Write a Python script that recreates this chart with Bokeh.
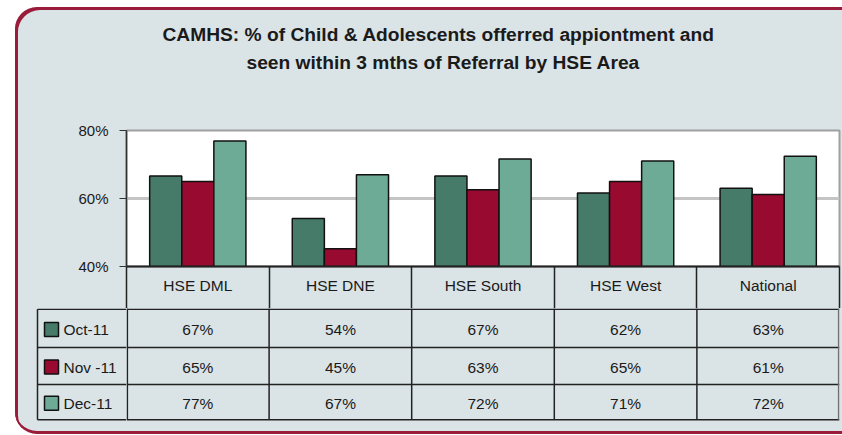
from bokeh.plotting import figure
from bokeh.layouts import column, row
from bokeh.models import (Range1d, FixedTicker, PrintfTickFormatter,
                          ColumnDataSource, Title)
from bokeh.core.properties import value
from bokeh.transform import dodge
from bokeh.embed import file_html
from bokeh.resources import INLINE

# ---- data ----
areas = ["HSE DML", "HSE DNE", "HSE South", "HSE West", "National"]
months = ["Oct-11", "Nov -11", "Dec-11"]
oct_vals = [66.6, 54.1, 66.6, 61.6, 63.0]
nov_vals = [65.0, 45.2, 62.6, 65.0, 61.2]
dec_vals = [76.9, 67.0, 71.6, 71.0, 72.4]
y_ticks = [40, 60, 80]
title_lines = ["CAMHS: % of Child & Adolescents offerred appiontment and",
               "seen within 3 mths of Referral by HSE Area"]

colors = ["#467a69", "#990a31", "#6eab97"]
BG = "#dae3e6"
RED = "#9b1b3b"
FONT = "Liberation Sans"
TXT = "#1a1a1a"
LC = "#222222"

series = [oct_vals, nov_vals, dec_vals]
keys = ["oct", "nov", "dec"]
n = len(areas)
centers = [i + 0.5 for i in range(n)]
bounds = list(range(n + 1))
src = ColumnDataSource(dict(xc=centers, oct=oct_vals, nov=nov_vals, dec=dec_vals))

# ---- geometry of the panel ----
X0, Y0 = 15, 7          # outer panel position on page
W = 827                 # panel width
LB = 111                # space left of the plot frame
RB = 3                  # space right of the plot frame
HDR = 42                # header row (category labels) height
TOPH = 301              # height of chart + header row
TH = 126                # height of the value rows part

# ---- top: bar chart with category header row as x axis ----
p = figure(x_range=Range1d(0, n), y_range=Range1d(40, 80),
           width=W, height=TOPH, min_border_left=LB, min_border_right=RB,
           min_border_top=123, min_border_bottom=HDR,
           toolbar_location=None, output_backend="svg")
p.background_fill_color = "white"
p.border_fill_alpha = 0
p.outline_line_color = "#a0a0a0"
p.outline_line_width = 2
p.xgrid.visible = False
p.ygrid.ticker = FixedTicker(ticks=[60])
p.ygrid.grid_line_color = "#c4c4c4"
p.ygrid.grid_line_width = 3

ya = p.yaxis[0]
ya.ticker = FixedTicker(ticks=y_ticks)
ya.formatter = PrintfTickFormatter(format="%d%%")
ya.major_label_text_font = FONT
ya.major_label_text_font_size = "15px"
ya.major_label_text_color = TXT
ya.axis_line_color = "#333333"
ya.axis_line_width = 1.5
ya.major_tick_line_color = "#333333"
ya.major_tick_out = 7
ya.major_tick_in = 0
ya.minor_tick_out = 0
ya.minor_tick_in = 0
ya.major_label_standoff = 11

xa = p.xaxis[0]
xa.ticker = FixedTicker(ticks=centers, minor_ticks=bounds)
xa.major_label_overrides = {c: a for c, a in zip(centers, areas)}
xa.major_label_text_font = FONT
xa.major_label_text_font_size = "15.5px"
xa.major_label_text_color = TXT
xa.major_label_standoff = 10 - HDR   # labels sit inside the header row
xa.major_tick_out = 0
xa.major_tick_in = 0
xa.minor_tick_in = 0
xa.minor_tick_out = HDR
xa.minor_tick_line_color = LC
xa.minor_tick_line_width = 1.5
xa.axis_line_color = LC
xa.axis_line_width = 2

bw = 0.225
offs = [-bw, 0.0, bw]
for k, off, c in zip(keys, offs, colors):
    p.vbar(x=dodge("xc", off, range=p.x_range), top=k, bottom=40, width=bw,
           source=src, fill_color=c, line_color="#111111", line_width=1.5)

# titles: first added sits closest to the frame (spacer, line 2, line 1)
p.add_layout(Title(text=" ", text_font_size="1px", standoff=52), "above")
for line, off in [(title_lines[1], 120), (title_lines[0], 36)]:
    p.add_layout(Title(text=line, align="left", offset=off, standoff=5,
                       text_font=FONT, text_font_size="19.2px",
                       text_font_style="bold", text_color=TXT), "above")

# ---- bottom: value rows of the data table ----
row_edges = [0.75, 39, 76, 111.3]
yc_rows = [(row_edges[r] + row_edges[r + 1]) / 2 + 1 for r in range(3)]

t = figure(x_range=Range1d(0, n), y_range=Range1d(TH, 0),
           width=W - LB, height=TH, min_border=0, min_border_right=RB,
           toolbar_location=None, output_backend="svg",
           x_axis_location=None, y_axis_location=None)
t.background_fill_alpha = 0
t.border_fill_alpha = 0
t.outline_line_color = None
t.grid.visible = False

e = 0.006
t.segment(x0=[0] * 4, x1=[n] * 4, y0=row_edges, y1=row_edges,
          line_color=LC, line_width=1.5)
vx = [e] + bounds[1:-1] + [n - e]
t.segment(x0=vx, x1=vx, y0=[0] * len(vx), y1=[row_edges[-1]] * len(vx),
          line_color=[LC] * n + ["#707070"], line_width=1.5)

for r, vals in enumerate(series):
    t.text(x=centers, y=[yc_rows[r]] * n, text=["%.0f%%" % v for v in vals],
           text_align="center", text_baseline="middle", text_font=value(FONT),
           text_font_size="15.5px", text_color=TXT)

# ---- legend column left of the table (page pixel units) ----
lg = figure(x_range=Range1d(X0, X0 + LB), y_range=Range1d(TH, 0),
            width=LB, height=TH, min_border=0, toolbar_location=None,
            output_backend="svg", x_axis_location=None, y_axis_location=None)
lg.background_fill_alpha = 0
lg.border_fill_alpha = 0
lg.outline_line_color = None
lg.grid.visible = False
lx0 = 37
lg.segment(x0=[lx0] * 4, x1=[X0 + LB] * 4, y0=row_edges, y1=row_edges,
           line_color=LC, line_width=1.5)
lg.segment(x0=[lx0], x1=[lx0], y0=[row_edges[0]], y1=[row_edges[-1]],
           line_color=LC, line_width=1.5)
lg.scatter(x=[51] * 3, y=yc_rows, marker="square", size=14,
           fill_color=colors, line_color="#111111", line_width=1.5)
lg.text(x=[63] * 3, y=yc_rows, text=months, text_align="left",
        text_baseline="middle", text_font=value(FONT), text_font_size="15.5px",
        text_color=TXT)

layout = column(p, row(lg, t), margin=(Y0, 0, 0, X0),
                styles={"background-color": BG, "border-radius": "22px 0 0 22px",
                        "box-shadow": f"inset 3px 3px 0 0 {RED}, inset 0 -3px 0 0 {RED}"})

open("out.html", "w").write(file_html(layout, INLINE))
